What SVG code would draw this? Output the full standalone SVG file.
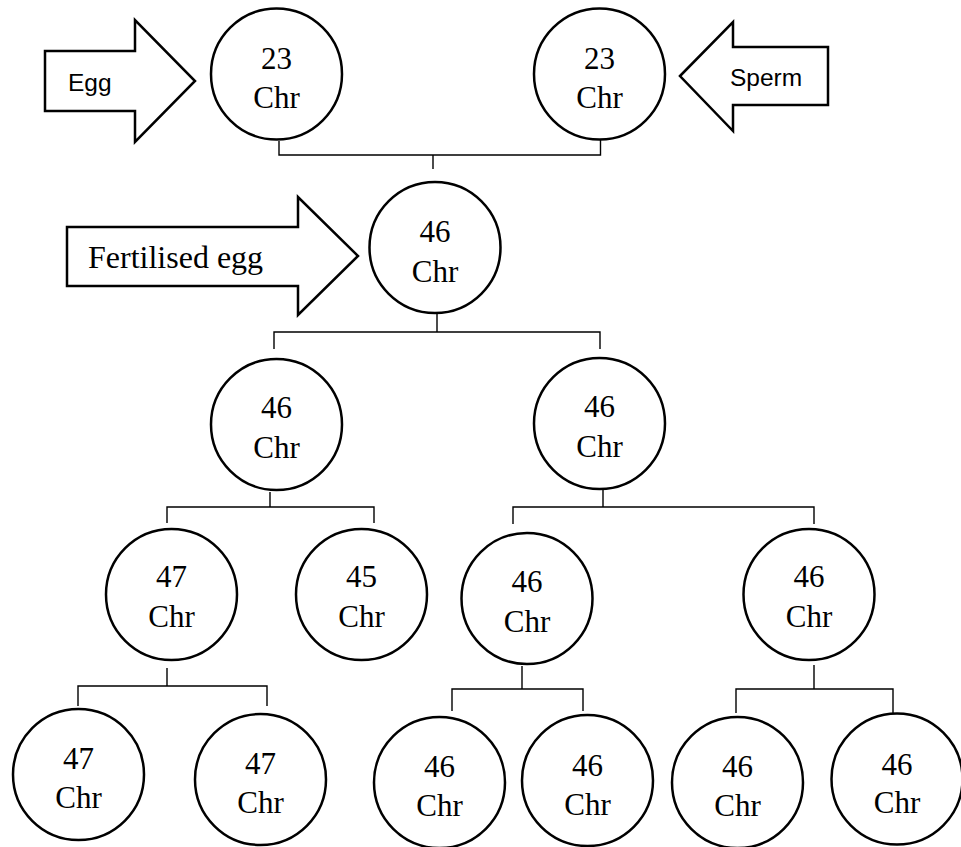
<svg xmlns="http://www.w3.org/2000/svg" width="961" height="847" viewBox="0 0 961 847">
<style>
.c{fill:#fff;stroke:#000;stroke-width:2.5}
.a{fill:#fff;stroke:#000;stroke-width:2.5;stroke-linejoin:miter}
.t{font-family:"Liberation Serif","Times New Roman",serif;font-size:31px;fill:#000;text-anchor:middle}
.s{font-family:"Liberation Sans",Arial,sans-serif;font-size:24.5px;fill:#000}
.f{font-family:"Liberation Serif","Times New Roman",serif;font-size:32px;fill:#000}
.k{fill:none;stroke:#000;stroke-width:1.4}
</style>
<rect width="961" height="847" fill="#fff"/>
<g id="connectors">
<path class="k" d="M279,141 V155 H600.5 V140 M433,155 V169"/>
<path class="k" d="M437,314 V332 M274,349 V332 H600 V349"/>
<path class="k" d="M270,492 V507 M167,523 V507 H374 V523"/>
<path class="k" d="M603,490 V507 M513,524 V507 H814 V524"/>
<path class="k" d="M167,668 V686 M78,706 V686 H267 V706"/>
<path class="k" d="M522,666 V689 M452,711 V689 H583 V711"/>
<path class="k" d="M814,665 V689 M736,713 V689 H893 V713"/>
</g>
<g id="egg-arrow">
<polygon class="a" points="45,51 135,51 135,20 195,81 135,142 135,111 45,111"/>
<text class="s" x="68" y="91">Egg</text>
</g>
<g id="sperm-arrow">
<polygon class="a" points="680,76 733,22 733,47 828,47 828,105 733,105 733,131"/>
<text class="s" x="730" y="86">Sperm</text>
</g>
<g id="fertilised-arrow">
<polygon class="a" points="67,227 298,227 298,197 358,256 298,315 298,286 67,286"/>
<text class="f" x="88" y="268">Fertilised egg</text>
</g>
<g id="n-egg"><circle class="c" cx="276.5" cy="74" r="65.5"/><text class="t" x="276.5" y="69">23</text><text class="t" x="276.5" y="108">Chr</text></g>
<g id="n-sperm"><circle class="c" cx="599.5" cy="74" r="65.5"/><text class="t" x="599.5" y="69">23</text><text class="t" x="599.5" y="108">Chr</text></g>
<g id="n-zygote"><circle class="c" cx="435" cy="247.5" r="65.5"/><text class="t" x="435" y="242">46</text><text class="t" x="435" y="282">Chr</text></g>
<g id="n-l2a"><circle class="c" cx="276.5" cy="424.5" r="65.5"/><text class="t" x="276.5" y="418">46</text><text class="t" x="276.5" y="458">Chr</text></g>
<g id="n-l2b"><circle class="c" cx="599.5" cy="423.5" r="65.5"/><text class="t" x="599.5" y="417">46</text><text class="t" x="599.5" y="457">Chr</text></g>
<g id="n-l3a"><circle class="c" cx="171.5" cy="594.5" r="65.5"/><text class="t" x="171.5" y="587">47</text><text class="t" x="171.5" y="627">Chr</text></g>
<g id="n-l3b"><circle class="c" cx="361.5" cy="594.5" r="65.5"/><text class="t" x="361.5" y="587">45</text><text class="t" x="361.5" y="627">Chr</text></g>
<g id="n-l3c"><circle class="c" cx="527" cy="598.5" r="65.5"/><text class="t" x="527" y="592">46</text><text class="t" x="527" y="632">Chr</text></g>
<g id="n-l3d"><circle class="c" cx="809" cy="594.5" r="65.5"/><text class="t" x="809" y="587">46</text><text class="t" x="809" y="627">Chr</text></g>
<g id="n-l4a"><circle class="c" cx="78.5" cy="774.5" r="65.5"/><text class="t" x="78.5" y="769">47</text><text class="t" x="78.5" y="808">Chr</text></g>
<g id="n-l4b"><circle class="c" cx="260.5" cy="779.5" r="65.5"/><text class="t" x="260.5" y="774">47</text><text class="t" x="260.5" y="813">Chr</text></g>
<g id="n-l4c"><circle class="c" cx="439.5" cy="782.5" r="65.5"/><text class="t" x="439.5" y="777">46</text><text class="t" x="439.5" y="816">Chr</text></g>
<g id="n-l4d"><circle class="c" cx="587.5" cy="780.5" r="65.5"/><text class="t" x="587.5" y="776">46</text><text class="t" x="587.5" y="815">Chr</text></g>
<g id="n-l4e"><circle class="c" cx="737.5" cy="782.5" r="65.5"/><text class="t" x="737.5" y="777">46</text><text class="t" x="737.5" y="816">Chr</text></g>
<g id="n-l4f"><circle class="c" cx="897" cy="779" r="65.5"/><text class="t" x="897" y="775">46</text><text class="t" x="897" y="813">Chr</text></g>
</svg>
